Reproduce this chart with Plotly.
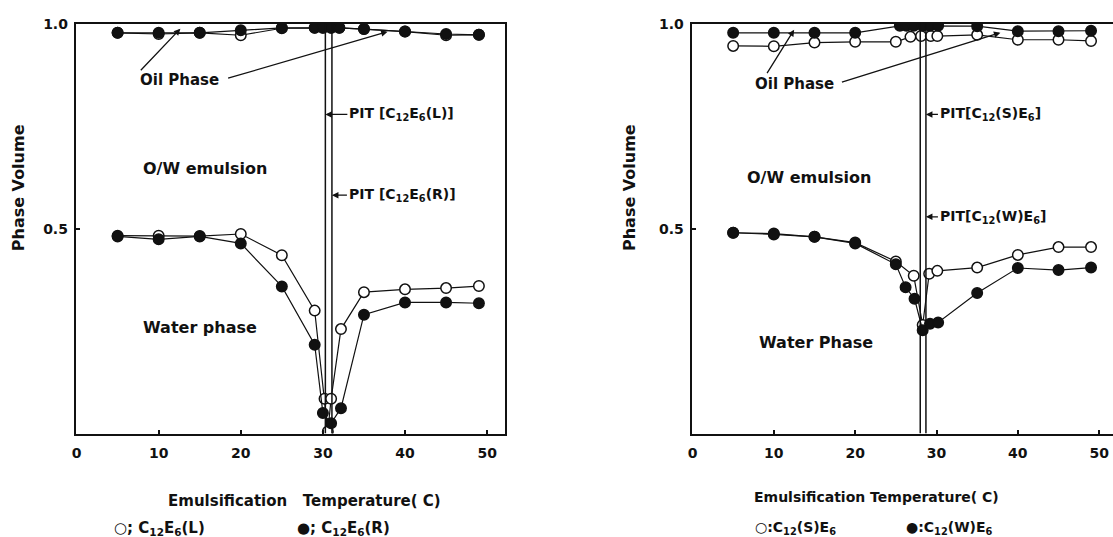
import plotly.graph_objects as go

W, H = 1113, 537

# ---------------- data ----------------
# Left panel: C12E6(L) (open) and C12E6(R) (filled)
L_water_x = [5, 10, 15, 20, 25, 29, 30.2, 30.6, 31.0, 32.2, 35, 40, 45, 49]
L_water_y = [0.483, 0.483, 0.482, 0.487, 0.435, 0.300, 0.085, 0.005, 0.085, 0.255, 0.345, 0.352, 0.355, 0.360]
R_water_x = [5, 10, 15, 20, 25, 29, 30.0, 31.0, 32.2, 35, 40, 45, 49]
R_water_y = [0.481, 0.474, 0.481, 0.464, 0.359, 0.217, 0.050, 0.025, 0.062, 0.290, 0.320, 0.320, 0.318]
L_oil_x = [5, 10, 15, 20, 25, 29, 30, 31, 32, 35, 40, 45, 49]
L_oil_y = [0.978, 0.975, 0.978, 0.972, 0.989, 0.990, 0.990, 0.990, 0.990, 0.987, 0.981, 0.972, 0.973]
R_oil_x = [5, 10, 15, 20, 25, 29, 30, 31, 32, 35, 40, 45, 49]
R_oil_y = [0.978, 0.978, 0.978, 0.984, 0.990, 0.990, 0.990, 0.990, 0.990, 0.987, 0.981, 0.975, 0.973]
PIT_left = [30.3, 31.1]          # PIT[C12E6(L)], PIT[C12E6(R)]

# Right panel: C12(S)E6 (open) and C12(W)E6 (filled)
S_water_x = [5, 10, 15, 20, 25, 27.2, 28.3, 29.1, 30.1, 35, 40, 45, 49]
S_water_y = [0.490, 0.488, 0.480, 0.466, 0.420, 0.385, 0.265, 0.390, 0.397, 0.405, 0.436, 0.455, 0.455]
Wt_water_x = [5, 10, 15, 20, 25, 26.2, 27.3, 28.3, 29.2, 30.2, 35, 40, 45, 49]
Wt_water_y = [0.490, 0.486, 0.480, 0.464, 0.413, 0.357, 0.329, 0.252, 0.268, 0.271, 0.343, 0.404, 0.399, 0.405]
S_oil_x = [5, 10, 15, 20, 25, 26.8, 28.1, 29.3, 30.1, 35, 40, 45, 49]
S_oil_y = [0.946, 0.945, 0.954, 0.956, 0.956, 0.968, 0.970, 0.970, 0.970, 0.973, 0.961, 0.961, 0.958]
Wt_oil_x = [5, 10, 15, 20, 25.5, 26.3, 27.2, 28.3, 29.2, 30.2, 35, 40, 45, 49]
Wt_oil_y = [0.978, 0.978, 0.978, 0.978, 0.995, 0.995, 0.995, 0.995, 0.995, 0.995, 0.994, 0.982, 0.982, 0.983]
PIT_right = [28.0, 28.7]         # PIT[C12(S)E6], PIT[C12(W)E6]

x_ticks = [0, 10, 20, 30, 40, 50]
x_ticktext = ["0", "10", "20", "30", "40", "50"]
y_ticks = [0.5, 1.0]
y_ticktext = ["0.5", "1.0"]

FONT = "DejaVu Sans"
BLACK = "#111111"

fig = go.Figure()


def series(x, y, xa, ya, filled):
    fig.add_trace(go.Scatter(
        x=x, y=y, xaxis=xa, yaxis=ya, mode="lines+markers",
        line=dict(color=BLACK, width=1.2),
        marker=dict(size=10.5, symbol="circle",
                    color=BLACK if filled else "white",
                    line=dict(color=BLACK, width=1.5)),
        showlegend=False, hoverinfo="skip"))


series(L_water_x, L_water_y, "x", "y", False)
series(R_water_x, R_water_y, "x", "y", True)
series(L_oil_x, L_oil_y, "x", "y", False)
series(R_oil_x, R_oil_y, "x", "y", True)

series(S_water_x, S_water_y, "x2", "y2", False)
series(Wt_water_x, Wt_water_y, "x2", "y2", True)
series(S_oil_x, S_oil_y, "x2", "y2", False)
series(Wt_oil_x, Wt_oil_y, "x2", "y2", True)


def px(x):
    return x / W


def py(y):
    return 1 - y / H


ydom = [py(432), py(16)]
TICKF = dict(family=FONT, size=14, color=BLACK, weight="bold")
axis_common = dict(showgrid=False, zeroline=False, linecolor=BLACK, linewidth=2,
                   ticks="inside", ticklen=4, tickcolor=BLACK, tickwidth=1.5,
                   tickfont=TICKF)

fig.update_layout(
    width=W, height=H, margin=dict(l=0, r=0, t=0, b=0),
    paper_bgcolor="white", plot_bgcolor="white",
    xaxis=dict(domain=[px(72), px(503)], range=[-0.1, 52.2], tickvals=x_ticks,
               ticktext=x_ticktext, showline=True, mirror=True,
               ticklabelstandoff=6, anchor="y", **axis_common),
    yaxis=dict(domain=ydom, range=[0, 1.0], tickvals=y_ticks, ticktext=y_ticktext,
               showline=True, mirror=True, ticklabelstandoff=3, anchor="x", **axis_common),
    xaxis2=dict(domain=[px(690), 1.0], range=[-0.12, 51.7], tickvals=x_ticks,
                ticktext=x_ticktext, showline=True, mirror=True,
                ticklabelstandoff=6, anchor="y2", **axis_common),
    yaxis2=dict(domain=ydom, range=[0, 1.0], tickvals=y_ticks, ticktext=y_ticktext,
                showline=True, mirror=False, ticklabelstandoff=3, anchor="x2", **axis_common),
)

# PIT vertical lines
for xv in PIT_left:
    fig.add_shape(type="line", xref="x", yref="y", x0=xv, x1=xv, y0=0, y1=1.0,
                  line=dict(color=BLACK, width=1.5))
for xv in PIT_right:
    fig.add_shape(type="line", xref="x2", yref="y2", x0=xv, x1=xv, y0=0, y1=1.0,
                  line=dict(color=BLACK, width=1.5))

TF = dict(family=FONT, size=14, color=BLACK, weight="bold")


def text(x, y, s, size=14, angle=0, xanchor="center"):
    fig.add_annotation(x=px(x), y=py(y), xref="paper", yref="paper", text=s,
                       showarrow=False,
                       font=dict(family=FONT, size=size, color=BLACK, weight="bold"),
                       textangle=angle, xanchor=xanchor, yanchor="middle")


def arrow(tx, ty, hx, hy):
    fig.add_annotation(x=px(hx), y=py(hy), ax=tx - hx, ay=ty - hy, xref="paper", yref="paper",
                       text="", showarrow=True,
                       arrowhead=2, arrowsize=1, arrowwidth=1.3, arrowcolor=BLACK)


def pit(xref, xv, y, s, gap):
    fig.add_annotation(x=xv, y=py(y), xref=xref, yref="paper", text=s,
                       showarrow=True, ax=gap, ay=0, xanchor="left",
                       arrowhead=2, arrowsize=1, arrowwidth=1.3, arrowcolor=BLACK,
                       font=TF)


# Left panel texts
text(14, 182, "Phase Volume", size=16, angle=-90)
text(302, 500, "Emulsification\u00a0\u00a0\u00a0Temperature( C)", size=15)
text(108, 528, "○; C<sub>12</sub>E<sub>6</sub>(L)", size=15, xanchor="left")
text(292, 528, "●; C<sub>12</sub>E<sub>6</sub>(R)", size=15, xanchor="left")
text(176, 73, "Oil Phase", size=15)
text(202, 163, "O/W emulsion", size=16)
text(197, 324, "Water phase", size=16)
arrow(136, 64, 177, 21)
arrow(224, 71, 385, 24)
pit("x", PIT_left[0], 108, "PIT [C<sub>12</sub>E<sub>6</sub>(L)]", 22)
pit("x", PIT_left[1], 190, "PIT [C<sub>12</sub>E<sub>6</sub>(R)]", 15)

# Right panel texts
text(628, 182, "Phase Volume", size=16, angle=-90)
text(876, 496, "Emulsification Temperature( C)", size=14)
text(752, 528, "○:C<sub>12</sub>(S)E<sub>6</sub>", xanchor="left")
text(903, 528, "●:C<sub>12</sub>(W)E<sub>6</sub>", xanchor="left")
text(793, 77, "Oil Phase", size=15)
text(808, 172, "O/W emulsion", size=16)
text(815, 340, "Water Phase", size=16)
arrow(765, 67, 793, 22)
arrow(840, 75, 1000, 25)
pit("x2", PIT_right[1], 108, "PIT[C<sub>12</sub>(S)E<sub>6</sub>]", 12)
pit("x2", PIT_right[1], 212, "PIT[C<sub>12</sub>(W)E<sub>6</sub>]", 12)

fig.write_html("out.html")
